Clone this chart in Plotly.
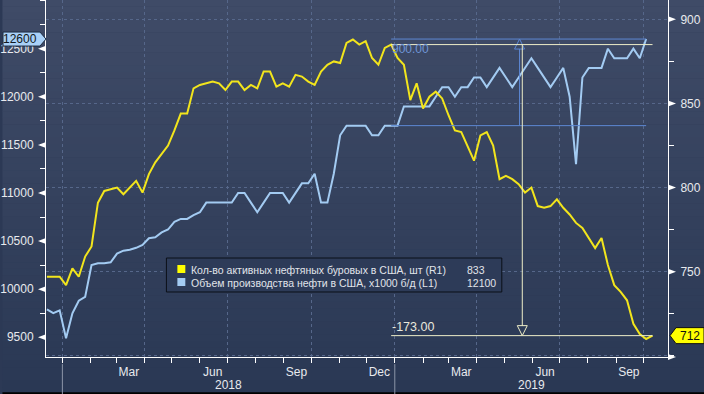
import plotly.graph_objects as go
import pandas as pd

# ---------------- data ----------------
start_date = "2017-12-15"  # weekly (Fridays)

rigs = [747, 747, 747, 742, 752, 747, 759, 765, 791, 798, 799, 800, 796, 800, 804, 797,
        808, 815, 820, 825, 834, 844, 844, 859, 861, 862, 863, 862, 858, 863, 863, 858,
        861, 859, 869, 869, 860, 862, 860, 867, 866, 863, 861, 869, 873, 875, 874, 886,
        888, 885, 887, 877, 873, 883, 885, 877, 873, 852, 862, 847, 854, 857, 853, 843,
        834, 833, 824, 816, 831, 833, 825, 805, 807, 805, 802, 797, 800, 789, 788, 789,
        793, 788, 784, 779, 776, 770, 764, 770, 754, 742, 738, 733, 719, 713, 710, 712]

production = [9790, 9750, 9780, 9490, 9750, 9880, 9920, 10250, 10270, 10270, 10280, 10370,
              10400, 10410, 10430, 10460, 10530, 10540, 10590, 10620, 10700, 10730, 10730,
              10770, 10800, 10900, 10900, 10900, 10900, 10900, 11000, 11000, 10900, 10800,
              10900, 11000, 11000, 11000, 10900, 11000, 11100, 11100, 11200, 10900, 10900,
              11200, 11600, 11700, 11700, 11700, 11700, 11600, 11600, 11700, 11700, 11700,
              11900, 11900, 11900, 11900, 11900, 12000, 12100, 12100, 12000, 12100, 12100,
              12200, 12200, 12100, 12200, 12300, 12200, 12100, 12200, 12300, 12400, 12300,
              12200, 12100, 12200, 12300, 12000, 11300, 12200, 12300, 12300, 12300, 12500,
              12400, 12400, 12400, 12500, 12400, 12600, None]

dates = pd.date_range(start_date, periods=len(rigs), freq="7D")

rig_name = "Кол-во активных нефтяных буровых в США, шт (R1)"
prod_name = "Объем производства нефти в США, x1000 б/д (L1)"
legend_rig_value = "833"
legend_prod_value = "12100"

month_label_dates = ["2018-03-15", "2018-06-15", "2018-09-15", "2018-12-15",
                     "2019-03-15", "2019-06-15", "2019-09-15"]
month_labels = ["Mar", "Jun", "Sep", "Dec", "Mar", "Jun", "Sep"]
year_labels = ["2018", "2019"]
year_label_dates = ["2018-07-02", "2019-05-31"]
year_starts = ["2018-01-01", "2019-01-01"]

left_ticks = [9500, 10000, 10500, 11000, 11500, 12000, 12500]
left_ticktext = ["9500", "10000", "10500", "11000", "11500", "12000", "12500"]
right_ticks = [700, 750, 800, 850, 900]
right_ticktext = ["", "750", "800", "850", "900"]

# measurement tool values
meas_start = "2018-12-28"
prod_meas_end = "2019-10-04"
rig_meas_end = "2019-10-11"
prod_meas_hi, prod_meas_lo = 12600, 11700
rig_meas_hi, rig_meas_lo = 885, 712
prod_meas_x = "2019-05-18"
rig_meas_x = "2019-05-21"
prod_diff_label = "900.00"
rig_diff_label = "-173.00"

# ---------------- style ----------------
YELLOW = "#f2e51c"
BLUE = "#a3cbf2"
MEAS_BLUE = "#5d88d4"
MEAS_CREAM = "#eeeec8"
GRID = "#56678a"
TXT = "#e8eaee"
FONT = "Liberation Sans"
X_RANGE = ["2017-12-14", "2019-10-28"]
Y_RANGE = [9295, 13006]
Y2_RANGE = [699.3, 911.5]

fig = go.Figure()
fig.add_trace(go.Scatter(x=dates, y=production, mode="lines", name=prod_name,
                         line=dict(color=BLUE, width=2), yaxis="y", showlegend=False,
                         connectgaps=False))
fig.add_trace(go.Scatter(x=dates, y=rigs, mode="lines", name=rig_name,
                         line=dict(color=YELLOW, width=2), yaxis="y2", showlegend=False))
fig.add_trace(go.Scatter(x=[None], y=[None], xaxis="x2", yaxis="y", showlegend=False,
                         hoverinfo="skip"))

shapes = []
# gradient background
N = 60
top_c = (63, 75, 103)
bot_c = (42, 56, 84)
y_top, y_bot = 1.0, -0.1036
for i in range(N):
    t = i / (N - 1)
    c = tuple(int(round(top_c[k] + (bot_c[k] - top_c[k]) * t)) for k in range(3))
    ya = y_top + (y_bot - y_top) * i / N
    yb = y_top + (y_bot - y_top) * (i + 1) / N
    shapes.append(dict(type="rect", xref="paper", yref="paper", x0=-0.07, x1=1.06,
                       y0=yb, y1=ya + 0.001, fillcolor="rgb(%d,%d,%d)" % c,
                       line=dict(width=0), layer="below"))
# bottom black strip
shapes.append(dict(type="rect", xref="paper", yref="paper", x0=-0.07, x1=1.06,
                   y0=-0.104, y1=-0.0985, fillcolor="black", line=dict(width=0)))

# year separators
for d in year_starts:
    shapes.append(dict(type="line", xref="x", yref="paper", x0=d, x1=d, y0=-0.02, y1=-0.104,
                       line=dict(color="#8c95a8", width=1)))

# axis tick arrows
for v in left_ticks:
    shapes.append(dict(type="path", xref="paper", yref="y", xsizemode="pixel", ysizemode="pixel",
                       xanchor=0, yanchor=v, path="M 0,3 L 0,-3 L -8,0 Z",
                       fillcolor="white", line=dict(width=0)))
for v in right_ticks[1:]:
    shapes.append(dict(type="path", xref="paper", yref="y2", xsizemode="pixel", ysizemode="pixel",
                       xanchor=1, yanchor=v, path="M 0,3 L 0,-3 L 8,0 Z",
                       fillcolor="white", line=dict(width=0)))
# x axis end arrow
shapes.append(dict(type="path", xref="paper", yref="paper", xsizemode="pixel", ysizemode="pixel",
                   xanchor=1, yanchor=0, path="M 0,3 L 0,-3 L 8,0 Z",
                   fillcolor="white", line=dict(width=0)))

# measurement lines
shapes += [
    dict(type="line", xref="x", yref="y", x0=meas_start, x1=prod_meas_end,
         y0=prod_meas_hi, y1=prod_meas_hi, line=dict(color=MEAS_BLUE, width=1)),
    dict(type="line", xref="x", yref="y", x0=meas_start, x1=prod_meas_end,
         y0=prod_meas_lo, y1=prod_meas_lo, line=dict(color=MEAS_BLUE, width=1)),
    dict(type="line", xref="x", yref="y", x0=prod_meas_x, x1=prod_meas_x,
         y0=prod_meas_lo, y1=prod_meas_hi, line=dict(color=MEAS_BLUE, width=1)),
    dict(type="path", xref="x", yref="y", xsizemode="pixel", ysizemode="pixel",
         xanchor=prod_meas_x, yanchor=prod_meas_hi, path="M 0,0 L -5,-10 L 5,-10 Z",
         line=dict(color=MEAS_BLUE, width=1), fillcolor="rgb(58,71,99)"),
    dict(type="line", xref="x", yref="y2", x0=meas_start, x1=rig_meas_end,
         y0=rig_meas_hi, y1=rig_meas_hi, line=dict(color=MEAS_CREAM, width=1)),
    dict(type="line", xref="x", yref="y2", x0=meas_start, x1=rig_meas_end,
         y0=rig_meas_lo, y1=rig_meas_lo, line=dict(color=MEAS_CREAM, width=1)),
    dict(type="line", xref="x", yref="y2", x0=rig_meas_x, x1=rig_meas_x,
         y0=rig_meas_lo, y1=rig_meas_hi, line=dict(color=MEAS_CREAM, width=1)),
    dict(type="path", xref="x", yref="y2", xsizemode="pixel", ysizemode="pixel",
         xanchor=rig_meas_x, yanchor=rig_meas_lo, path="M 0,0 L -5,10 L 5,10 Z",
         line=dict(color=MEAS_CREAM, width=1), fillcolor="rgb(46,60,88)"),
]

# last-value flags
last_prod = [v for v in production if v is not None][-1]
last_rig = rigs[-1]
shapes.append(dict(type="path", xref="paper", yref="y", xsizemode="pixel", ysizemode="pixel",
                   xanchor=0, yanchor=last_prod, path="M -43,7 L -6,7 L 0,0 L -6,-7 L -43,-7 Z",
                   fillcolor="#a9d0f7", line=dict(color="#1c2a40", width=1)))
shapes.append(dict(type="path", xref="paper", yref="y2", xsizemode="pixel", ysizemode="pixel",
                   xanchor=1, yanchor=last_rig, path="M 2,0 L 8,8 L 36,8 L 36,-8 L 8,-8 Z",
                   fillcolor="#ffff00", line=dict(color="#111111", width=1)))

# legend box
shapes.append(dict(type="rect", xref="paper", yref="paper", x0=0.1936, x1=0.7328,
                   y0=0.1821, y1=0.2773, fillcolor="rgb(45,59,88)",
                   line=dict(color="#0b1018", width=1)))
shapes.append(dict(type="rect", xref="paper", yref="paper", x0=0.2112, x1=0.2240,
                   y0=0.2353, y1=0.2577, fillcolor="#ffff00", line=dict(width=0)))
shapes.append(dict(type="rect", xref="paper", yref="paper", x0=0.2112, x1=0.2240,
                   y0=0.1989, y1=0.2213, fillcolor=BLUE, line=dict(width=0)))

LEG_FONT = dict(family=FONT, size=10.5, color="#e0e4ea")
annotations = []
for lbl, d in zip(year_labels, year_label_dates):
    annotations.append(dict(text=lbl, x=d, xref="x", y=-0.0784, yref="paper",
                            showarrow=False, xanchor="center", yanchor="middle",
                            font=dict(family=FONT, size=12, color=TXT)))
annotations += [
    dict(text=str(last_prod), x=0, xref="paper", y=last_prod, yref="y", xanchor="right",
         yanchor="middle", xshift=-7, showarrow=False,
         font=dict(family=FONT, size=12, color="#101820")),
    dict(text=str(last_rig), x=1, xref="paper", y=last_rig, yref="y2", xanchor="center",
         yanchor="middle", xshift=22, showarrow=False,
         font=dict(family=FONT, size=12, color="#101010")),
    dict(text=prod_diff_label, x=meas_start, xref="x", y=prod_meas_hi, yref="y",
         xanchor="left", yanchor="top", showarrow=False, xshift=-1, yshift=-1,
         font=dict(family=FONT, size=12, color="#7097d8")),
    dict(text=rig_diff_label, x=meas_start, xref="x", y=rig_meas_lo, yref="y2",
         xanchor="left", yanchor="bottom", showarrow=False, xshift=-1,
         font=dict(family=FONT, size=12.5, color="#e8e8dc")),
    dict(text=rig_name, x=0.2299, xref="paper", y=0.2437, yref="paper", xanchor="left",
         yanchor="middle", showarrow=False, font=LEG_FONT),
    dict(text=prod_name, x=0.2299, xref="paper", y=0.2073, yref="paper", xanchor="left",
         yanchor="middle", showarrow=False, font=LEG_FONT),
    dict(text=legend_rig_value, x=0.6736, xref="paper", y=0.2437, yref="paper", xanchor="left",
         yanchor="middle", showarrow=False, font=LEG_FONT),
    dict(text=legend_prod_value, x=0.6736, xref="paper", y=0.2073, yref="paper", xanchor="left",
         yanchor="middle", showarrow=False, font=LEG_FONT),
]

tickfont = dict(family=FONT, size=12, color=TXT)

fig.update_layout(
    width=704, height=394,
    margin=dict(l=43, r=36, t=0, b=37),
    paper_bgcolor="rgb(44,57,85)",
    plot_bgcolor="rgba(0,0,0,0)",
    showlegend=False,
    xaxis=dict(type="date", range=X_RANGE, showline=True, linecolor="white", linewidth=1,
               showgrid=True, gridcolor=GRID, griddash="dot", gridwidth=1,
               dtick="M3", tick0="2018-01-01", ticks="outside", ticklen=5, tickcolor="white",
               showticklabels=False, zeroline=False,
               minor=dict(dtick="M1", tick0="2018-01-01", ticks="outside", ticklen=5,
                          tickcolor="white", showgrid=False)),
    xaxis2=dict(type="date", range=X_RANGE, overlaying="x", anchor="y", side="bottom",
                tickmode="array", tickvals=month_label_dates, ticktext=month_labels,
                ticks="outside", ticklen=4, tickcolor="rgba(0,0,0,0)", showgrid=False,
                showline=False, zeroline=False, tickfont=tickfont),
    yaxis=dict(range=Y_RANGE, showline=True, linecolor="white", linewidth=1, showgrid=False,
               zeroline=False, tickmode="array", tickvals=left_ticks, ticktext=left_ticktext,
               ticks="outside", ticklen=9, tickcolor="rgba(0,0,0,0)", tickfont=tickfont,
               minor=dict(dtick=250, tick0=0, ticks="outside", ticklen=5, tickcolor="white",
                          showgrid=False)),
    yaxis2=dict(range=Y2_RANGE, overlaying="y", side="right", showline=True, linecolor="white",
                linewidth=1, showgrid=True, gridcolor=GRID, griddash="dot", gridwidth=1,
                zeroline=False, tickmode="array", tickvals=right_ticks, ticktext=right_ticktext,
                ticks="outside", ticklen=9, tickcolor="rgba(0,0,0,0)", tickfont=tickfont,
                minor=dict(dtick=25, tick0=0, ticks="outside", ticklen=5, tickcolor="white",
                           showgrid=False)),
    shapes=shapes,
    annotations=annotations,
)

fig.write_html("out.html", config={"displayModeBar": False},
               post_script="document.body.style.margin='0';document.body.style.overflow='hidden';")
